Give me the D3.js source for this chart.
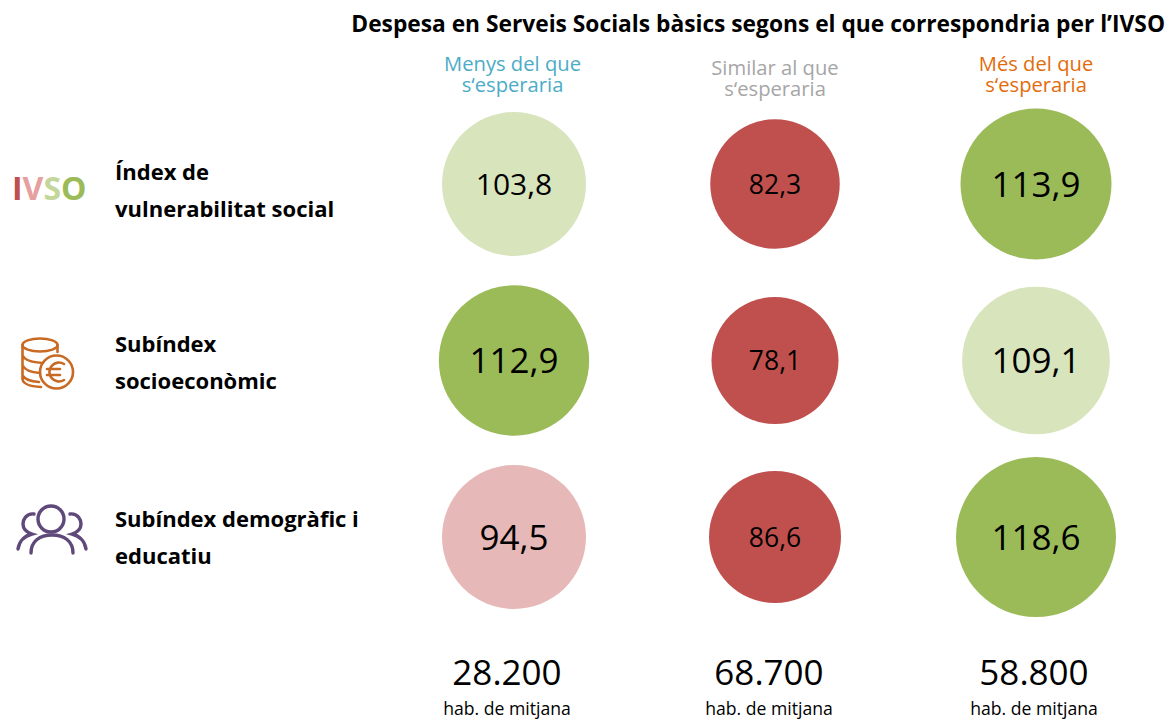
<!DOCTYPE html>
<html><head><meta charset="utf-8">
<script src="https://cdnjs.cloudflare.com/ajax/libs/d3/7.8.5/d3.min.js"></script>
<style>html,body{margin:0;padding:0;background:#fff}svg{display:block;font-family:"Open Sans",sans-serif}</style>
</head><body><svg id="c" width="1173" height="720"></svg>
<script>
const title = "Despesa en Serveis Socials bàsics segons el que correspondria per l’IVSO";
const columns = ["Menys del que s‘esperaria", "Similar al que s‘esperaria", "Més del que s‘esperaria"];
const columnLines = [["Menys del que","s‘esperaria"],["Similar al que","s‘esperaria"],["Més del que","s‘esperaria"]];
const rows = ["Índex de vulnerabilitat social", "Subíndex socioeconòmic", "Subíndex demogràfic i educatiu"];
const rowLines = [["Índex de","vulnerabilitat social"],["Subíndex","socioeconòmic"],["Subíndex demogràfic i","educatiu"]];
const valuesIvso = [103.8, 82.3, 113.9];
const valuesEconomic = [112.9, 78.1, 109.1];
const valuesDemographic = [94.5, 86.6, 118.6];
const population = ["28.200", "68.700", "58.800"];
const populationUnit = "hab. de mitjana";

const svg = d3.select("#c");
const fmt = v => String(v).replace(".", ",");
const x = d3.scalePoint().domain(columns).range([514, 1036]);
const y = d3.scalePoint().domain(rows).range([184, 537]);
const r = d3.scaleLinear().domain([78.1, 86.6, 94.5, 103.8, 113.9, 118.6]).range([63.5, 66, 72, 72, 75.5, 80]);
const color = d3.scaleThreshold().domain([90, 100, 110]).range(["#c0504d", "#e6b8b7", "#d8e4bc", "#9bbb59"]);
const size = d3.scaleThreshold().domain([90, 100, 105]).range([26.5, 35, 30, 35]);
const colColors = ["#4bacc6", "#a6a6a6", "#e36c0a"];
const colTop = [70.5, 74.5, 70.5];
const rowShift = [-4, -9, -10];

svg.append("text").attr("x", 1165).attr("y", 32).attr("text-anchor", "end")
  .attr("font-size", 22.75).attr("font-weight", 700).attr("fill", "#000").text(title);

columns.forEach((c, i) => {
  const t = svg.append("text").attr("text-anchor", "middle").attr("font-size", 20.2).attr("fill", colColors[i]);
  columnLines[i].forEach((line, k) => t.append("tspan")
    .attr("x", x(c) + (i === 0 ? -1.5 : 0)).attr("y", colTop[i] + k * 21).text(line));
});

rows.forEach((row, j) => {
  const t = svg.append("text").attr("font-size", 22).attr("font-weight", 700).attr("fill", "#000");
  rowLines[j].forEach((line, k) => t.append("tspan")
    .attr("x", 115).attr("y", y(row) + rowShift[j] + k * 37).text(line));
});

const cells = [valuesIvso, valuesEconomic, valuesDemographic].flatMap((vals, j) =>
  vals.map((v, i) => ({ v, col: columns[i], row: rows[j] })));
const g = svg.selectAll("g.cell").data(cells).join("g").attr("class", "cell")
  .attr("transform", d => `translate(${x(d.col)},${y(d.row)})`);
g.append("circle").attr("r", d => r(d.v)).attr("fill", d => color(d.v));
g.append("text").attr("text-anchor", "middle").attr("dy", "0.36em")
  .attr("font-size", d => size(d.v)).attr("fill", "#000").text(d => fmt(d.v));

columns.forEach((c, i) => {
  const cx = x(c) - (i === 0 ? 7 : i === 2 ? 2 : 6);
  svg.append("text").attr("x", cx).attr("y", 685).attr("text-anchor", "middle")
    .attr("font-size", 35).attr("fill", "#000").text(population[i]);
  svg.append("text").attr("x", cx).attr("y", 715).attr("text-anchor", "middle")
    .attr("font-size", 17.6).attr("fill", "#000").text(populationUnit);
});

// IVSO logo
const logo = svg.append("text").attr("x", 12).attr("y", 200).attr("font-size", 32).attr("font-weight", 700);
[["I","#c0504d"],["V","#e6a0a0"],["S","#c3d69b"],["O","#9bbb59"]].forEach(([t, f]) => logo.append("tspan").attr("fill", f).text(t));

// coins icon
const coin = svg.append("g").attr("fill", "none").attr("stroke", "#c96a24").attr("stroke-width", 2.6).attr("stroke-linecap", "round");
coin.append("ellipse").attr("cx", 40).attr("cy", 345).attr("rx", 17.5).attr("ry", 6.5);
coin.append("path").attr("d", "M22.5 345V379Q23 386 41 387M57.5 345V352M23 356Q26 362 43 363M23 366Q26 372 40 373M23 376Q26 381 39 382");
coin.append("circle").attr("cx", 56.5).attr("cy", 372).attr("r", 16.5);
coin.append("path").attr("d", "M64 364A9.5 9.5 0 1 0 64 380M47 369H60M47 375H60");

// people icon
const ppl = svg.append("g").attr("fill", "none").attr("stroke", "#5f497a").attr("stroke-width", 3.4).attr("stroke-linecap", "round");
ppl.append("circle").attr("cx", 51).attr("cy", 519).attr("r", 13);
ppl.append("path").attr("d", "M31 553C31 541 40 535 52 535C64 535 73 541 73 553");
ppl.append("path").attr("d", "M34 514C26 513 23 520 23 524C23 529 26 532 32 534C24 536 19 542 18 549");
ppl.append("path").attr("d", "M70 514C78 513 81 520 81 524C81 529 78 532 72 534C80 536 85 542 86 549");
</script></body></html>
